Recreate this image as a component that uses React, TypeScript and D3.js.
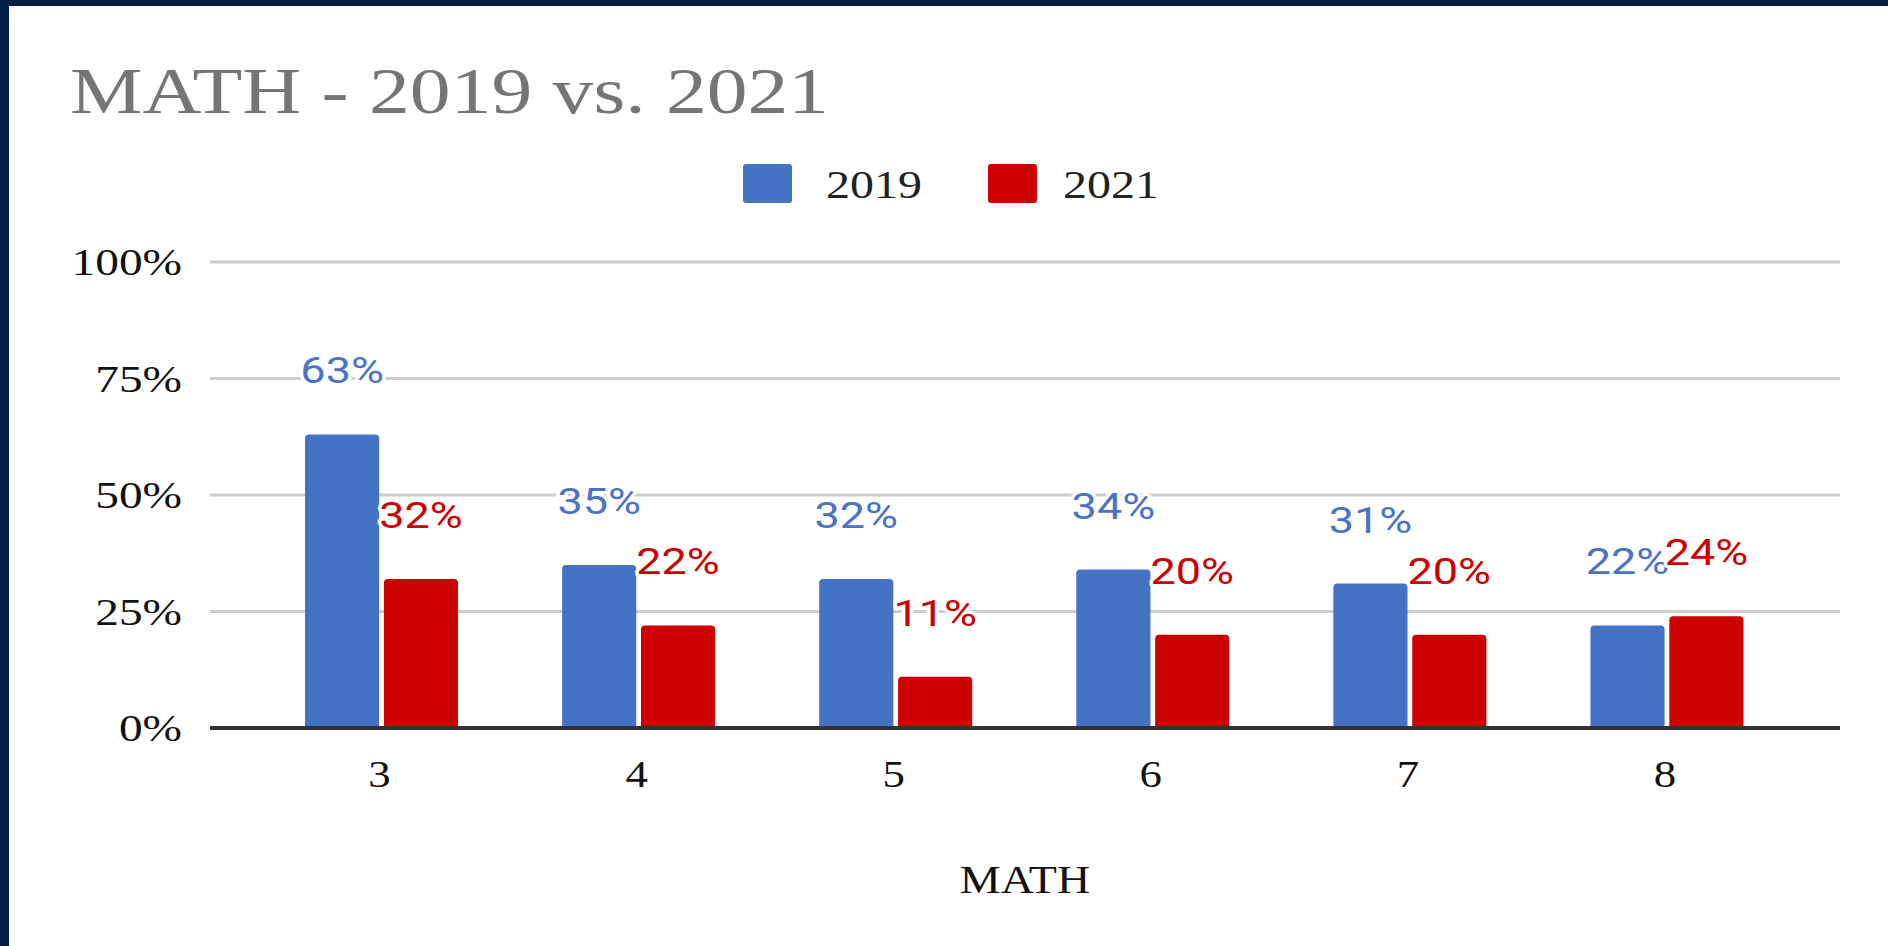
import React from "react";
import * as d3 from "d3";

const grades = ["3", "4", "5", "6", "7", "8"];
const seriesNames = ["2019", "2021"];
const values2019 = [0.63, 0.35, 0.32, 0.34, 0.31, 0.22];
const values2021 = [0.32, 0.22, 0.11, 0.2, 0.2, 0.24];
const yTicks = [0, 0.25, 0.5, 0.75, 1];
const colors = ["#4472c4", "#cc0000"];
const labelColors = ["#4a72c6", "#cc0000"];
const titleText = "MATH - 2019 vs. 2021";
const xTitle = "MATH";

const W = 1888;
const H = 946;
const SERIF = "'Liberation Serif', 'Times New Roman', serif";
const SANS = "Roboto, Arial, sans-serif";

function topRoundedBar(x: number, y: number, w: number, h: number, r: number) {
  const rr = Math.min(r, h / 2, w / 2);
  return `M${x},${y + h}V${y + rr}Q${x},${y} ${x + rr},${y}H${x + w - rr}Q${x + w},${y} ${x + w},${y + rr}V${y + h}Z`;
}

export default function App() {
  const x0 = d3.scaleBand<string>().domain(grades).range([253, 1795.5]).padding(0);
  const groupW = 153;
  const x1 = d3.scaleBand<string>().domain(seriesNames).range([0, groupW]).paddingInner(0.06);
  const y = d3.scaleLinear().domain([0, 1]).range([728, 262]);
  const fmt = d3.format(".0%");
  const series = [values2019, values2021];

  const stretch = (x: number, yy: number, s: number) => `translate(${x},${yy}) scale(${s},1)`;

  return (
    <div style={{ position: "fixed", left: 0, top: 0, width: W, height: H, background: "#fff" }}>
      <svg width={W} height={H} style={{ display: "block" }}>
        <rect x={0} y={0} width={W} height={H} fill="#ffffff" />
        <rect x={0} y={0} width={W} height={6} fill="#001e44" />
        <rect x={0} y={0} width={9} height={H} fill="#001e44" />

        <text transform={stretch(70, 113, 1.255)} fontFamily={SERIF} fontSize={65} fill="#757575">
          {titleText}
        </text>

        {/* legend */}
        <rect x={743} y={164} width={49} height={39} rx={3} fill={colors[0]} />
        <text transform={stretch(826, 198, 1.23)} fontFamily={SERIF} fontSize={39} fill="#222">
          {seriesNames[0]}
        </text>
        <rect x={988} y={164} width={49} height={39} rx={3} fill={colors[1]} />
        <text transform={stretch(1063, 198, 1.23)} fontFamily={SERIF} fontSize={39} fill="#222">
          {seriesNames[1]}
        </text>

        {/* gridlines */}
        {yTicks.map((t) =>
          t === 0 ? null : (
            <line key={"g" + t} x1={210} x2={1840} y1={y(t)} y2={y(t)} stroke="#cccccc" strokeWidth={3} />
          )
        )}
        {yTicks.map((t) => (
          <text
            key={"yl" + t}
            transform={stretch(182, y(t) + 13, 1.28)}
            textAnchor="end"
            fontFamily={SERIF}
            fontSize={37}
            fill="#111"
          >
            {fmt(t)}
          </text>
        ))}

        {/* bars */}
        {grades.map((g, i) => {
          const gx = (x0(g) as number) + (x0.bandwidth() - groupW) / 2;
          return (
            <g key={"b" + g}>
              {series.map((vals, si) => {
                const bx = gx + (x1(seriesNames[si]) as number);
                const by = y(vals[i]);
                return (
                  <path
                    key={si}
                    d={topRoundedBar(bx, by, x1.bandwidth(), y(0) - by, 4)}
                    fill={colors[si]}
                  />
                );
              })}
            </g>
          );
        })}

        <line x1={210} x2={1840} y1={y(0)} y2={y(0)} stroke="#333" strokeWidth={4} />

        {/* data labels */}
        {grades.map((g, i) => {
          const gx = (x0(g) as number) + (x0.bandwidth() - groupW) / 2;
          return (
            <g key={"l" + g}>
              {series.map((vals, si) => {
                const cx = gx + (x1(seriesNames[si]) as number) + x1.bandwidth() / 2;
                const by = y(vals[i]) - 51;
                return (
                  <text
                    key={si}
                    transform={stretch(cx, by, 1.25)}
                    textAnchor="middle"
                    fontFamily={SANS}
                    fontSize={36}
                    fill={labelColors[si]}
                    stroke="#ffffff"
                    strokeWidth={6}
                    strokeLinejoin="round"
                    paintOrder="stroke"
                  >
                    {fmt(vals[i])}
                  </text>
                );
              })}
            </g>
          );
        })}

        {/* x axis labels */}
        {grades.map((g) => (
          <text
            key={"xl" + g}
            transform={stretch((x0(g) as number) + x0.bandwidth() / 2 - 2, 787, 1.15)}
            textAnchor="middle"
            fontFamily={SERIF}
            fontSize={39}
            fill="#111"
          >
            {g}
          </text>
        ))}

        <text transform={stretch(1025, 893, 1.15)} textAnchor="middle" fontFamily={SERIF} fontSize={40} fill="#111">
          {xTitle}
        </text>
      </svg>
    </div>
  );
}
